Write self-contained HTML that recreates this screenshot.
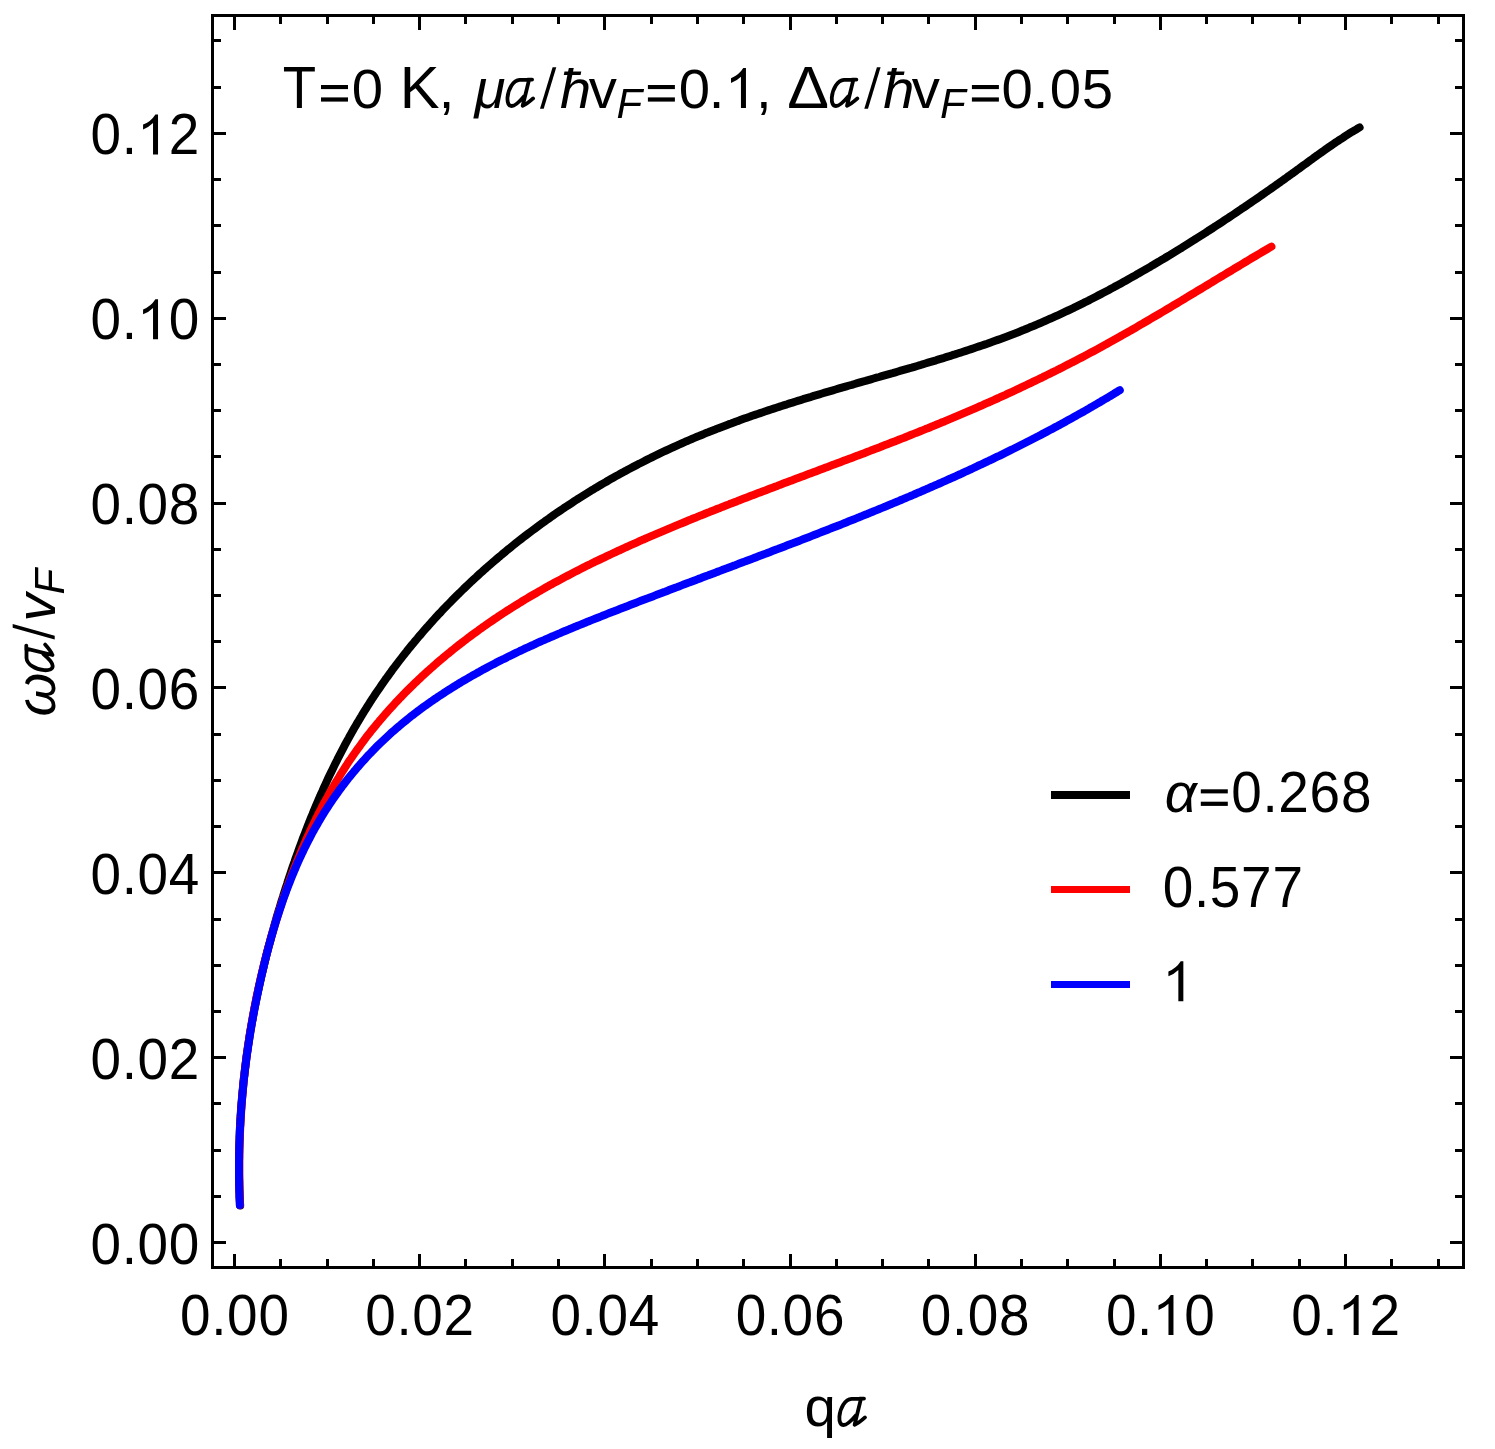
<!DOCTYPE html>
<html><head><meta charset="utf-8"><style>
html,body{margin:0;padding:0;background:#fff;}
svg{display:block;will-change:transform;}
text{font-family:"Liberation Sans",sans-serif;font-size:56.3px;fill:#000;}
</style></head><body>
<svg width="1495" height="1449" viewBox="0 0 1495 1449">
<rect width="1495" height="1449" fill="#fff"/>
<rect x="212.5" y="15.5" width="1251" height="1252" fill="none" stroke="#000" stroke-width="3"/>
<rect x="233" y="17" width="3" height="13"/>
<rect x="233" y="1254" width="3" height="12"/>
<rect x="279" y="17" width="3" height="7"/>
<rect x="279" y="1259" width="3" height="7"/>
<rect x="326" y="17" width="3" height="7"/>
<rect x="326" y="1259" width="3" height="7"/>
<rect x="372" y="17" width="3" height="7"/>
<rect x="372" y="1259" width="3" height="7"/>
<rect x="418" y="17" width="3" height="13"/>
<rect x="418" y="1254" width="3" height="12"/>
<rect x="464" y="17" width="3" height="7"/>
<rect x="464" y="1259" width="3" height="7"/>
<rect x="511" y="17" width="3" height="7"/>
<rect x="511" y="1259" width="3" height="7"/>
<rect x="557" y="17" width="3" height="7"/>
<rect x="557" y="1259" width="3" height="7"/>
<rect x="603" y="17" width="3" height="13"/>
<rect x="603" y="1254" width="3" height="12"/>
<rect x="650" y="17" width="3" height="7"/>
<rect x="650" y="1259" width="3" height="7"/>
<rect x="696" y="17" width="3" height="7"/>
<rect x="696" y="1259" width="3" height="7"/>
<rect x="742" y="17" width="3" height="7"/>
<rect x="742" y="1259" width="3" height="7"/>
<rect x="789" y="17" width="3" height="13"/>
<rect x="789" y="1254" width="3" height="12"/>
<rect x="835" y="17" width="3" height="7"/>
<rect x="835" y="1259" width="3" height="7"/>
<rect x="881" y="17" width="3" height="7"/>
<rect x="881" y="1259" width="3" height="7"/>
<rect x="927" y="17" width="3" height="7"/>
<rect x="927" y="1259" width="3" height="7"/>
<rect x="974" y="17" width="3" height="13"/>
<rect x="974" y="1254" width="3" height="12"/>
<rect x="1020" y="17" width="3" height="7"/>
<rect x="1020" y="1259" width="3" height="7"/>
<rect x="1066" y="17" width="3" height="7"/>
<rect x="1066" y="1259" width="3" height="7"/>
<rect x="1113" y="17" width="3" height="7"/>
<rect x="1113" y="1259" width="3" height="7"/>
<rect x="1159" y="17" width="3" height="13"/>
<rect x="1159" y="1254" width="3" height="12"/>
<rect x="1205" y="17" width="3" height="7"/>
<rect x="1205" y="1259" width="3" height="7"/>
<rect x="1251" y="17" width="3" height="7"/>
<rect x="1251" y="1259" width="3" height="7"/>
<rect x="1298" y="17" width="3" height="7"/>
<rect x="1298" y="1259" width="3" height="7"/>
<rect x="1344" y="17" width="3" height="13"/>
<rect x="1344" y="1254" width="3" height="12"/>
<rect x="1390" y="17" width="3" height="7"/>
<rect x="1390" y="1259" width="3" height="7"/>
<rect x="1437" y="17" width="3" height="7"/>
<rect x="1437" y="1259" width="3" height="7"/>
<rect x="214" y="1241" width="12" height="3"/>
<rect x="1450" y="1241" width="12" height="3"/>
<rect x="214" y="1195" width="7" height="3"/>
<rect x="1455" y="1195" width="7" height="3"/>
<rect x="214" y="1149" width="7" height="3"/>
<rect x="1455" y="1149" width="7" height="3"/>
<rect x="214" y="1102" width="7" height="3"/>
<rect x="1455" y="1102" width="7" height="3"/>
<rect x="214" y="1056" width="12" height="3"/>
<rect x="1450" y="1056" width="12" height="3"/>
<rect x="214" y="1010" width="7" height="3"/>
<rect x="1455" y="1010" width="7" height="3"/>
<rect x="214" y="964" width="7" height="3"/>
<rect x="1455" y="964" width="7" height="3"/>
<rect x="214" y="918" width="7" height="3"/>
<rect x="1455" y="918" width="7" height="3"/>
<rect x="214" y="871" width="12" height="3"/>
<rect x="1450" y="871" width="12" height="3"/>
<rect x="214" y="825" width="7" height="3"/>
<rect x="1455" y="825" width="7" height="3"/>
<rect x="214" y="779" width="7" height="3"/>
<rect x="1455" y="779" width="7" height="3"/>
<rect x="214" y="733" width="7" height="3"/>
<rect x="1455" y="733" width="7" height="3"/>
<rect x="214" y="686" width="12" height="3"/>
<rect x="1450" y="686" width="12" height="3"/>
<rect x="214" y="640" width="7" height="3"/>
<rect x="1455" y="640" width="7" height="3"/>
<rect x="214" y="594" width="7" height="3"/>
<rect x="1455" y="594" width="7" height="3"/>
<rect x="214" y="548" width="7" height="3"/>
<rect x="1455" y="548" width="7" height="3"/>
<rect x="214" y="502" width="12" height="3"/>
<rect x="1450" y="502" width="12" height="3"/>
<rect x="214" y="455" width="7" height="3"/>
<rect x="1455" y="455" width="7" height="3"/>
<rect x="214" y="409" width="7" height="3"/>
<rect x="1455" y="409" width="7" height="3"/>
<rect x="214" y="363" width="7" height="3"/>
<rect x="1455" y="363" width="7" height="3"/>
<rect x="214" y="317" width="12" height="3"/>
<rect x="1450" y="317" width="12" height="3"/>
<rect x="214" y="271" width="7" height="3"/>
<rect x="1455" y="271" width="7" height="3"/>
<rect x="214" y="224" width="7" height="3"/>
<rect x="1455" y="224" width="7" height="3"/>
<rect x="214" y="178" width="7" height="3"/>
<rect x="1455" y="178" width="7" height="3"/>
<rect x="214" y="132" width="12" height="3"/>
<rect x="1450" y="132" width="12" height="3"/>
<rect x="214" y="86" width="7" height="3"/>
<rect x="1455" y="86" width="7" height="3"/>
<rect x="214" y="39" width="7" height="3"/>
<rect x="1455" y="39" width="7" height="3"/>
<text transform="translate(195.37,1335.00) scale(0.975,1.02)" x="0" y="0" text-anchor="middle">0</text><text transform="translate(218.84,1335.00) scale(0.975,1.02)" x="0" y="0" text-anchor="middle">.</text><text transform="translate(242.32,1335.00) scale(0.975,1.02)" x="0" y="0" text-anchor="middle">0</text><text transform="translate(273.63,1335.00) scale(0.975,1.02)" x="0" y="0" text-anchor="middle">0</text>
<text transform="translate(105.78,1263.50) scale(0.975,1.02)" x="0" y="0" text-anchor="middle">0</text><text transform="translate(129.26,1263.50) scale(0.975,1.02)" x="0" y="0" text-anchor="middle">.</text><text transform="translate(152.73,1263.50) scale(0.975,1.02)" x="0" y="0" text-anchor="middle">0</text><text transform="translate(184.04,1263.50) scale(0.975,1.02)" x="0" y="0" text-anchor="middle">0</text>
<text transform="translate(380.54,1335.00) scale(0.975,1.02)" x="0" y="0" text-anchor="middle">0</text><text transform="translate(404.01,1335.00) scale(0.975,1.02)" x="0" y="0" text-anchor="middle">.</text><text transform="translate(427.49,1335.00) scale(0.975,1.02)" x="0" y="0" text-anchor="middle">0</text><text transform="translate(458.80,1335.00) scale(0.975,1.02)" x="0" y="0" text-anchor="middle">2</text>
<text transform="translate(105.78,1078.65) scale(0.975,1.02)" x="0" y="0" text-anchor="middle">0</text><text transform="translate(129.26,1078.65) scale(0.975,1.02)" x="0" y="0" text-anchor="middle">.</text><text transform="translate(152.73,1078.65) scale(0.975,1.02)" x="0" y="0" text-anchor="middle">0</text><text transform="translate(184.04,1078.65) scale(0.975,1.02)" x="0" y="0" text-anchor="middle">2</text>
<text transform="translate(565.71,1335.00) scale(0.975,1.02)" x="0" y="0" text-anchor="middle">0</text><text transform="translate(589.18,1335.00) scale(0.975,1.02)" x="0" y="0" text-anchor="middle">.</text><text transform="translate(612.66,1335.00) scale(0.975,1.02)" x="0" y="0" text-anchor="middle">0</text><text transform="translate(643.97,1335.00) scale(0.975,1.02)" x="0" y="0" text-anchor="middle">4</text>
<text transform="translate(105.78,893.80) scale(0.975,1.02)" x="0" y="0" text-anchor="middle">0</text><text transform="translate(129.26,893.80) scale(0.975,1.02)" x="0" y="0" text-anchor="middle">.</text><text transform="translate(152.73,893.80) scale(0.975,1.02)" x="0" y="0" text-anchor="middle">0</text><text transform="translate(184.04,893.80) scale(0.975,1.02)" x="0" y="0" text-anchor="middle">4</text>
<text transform="translate(750.88,1335.00) scale(0.975,1.02)" x="0" y="0" text-anchor="middle">0</text><text transform="translate(774.35,1335.00) scale(0.975,1.02)" x="0" y="0" text-anchor="middle">.</text><text transform="translate(797.83,1335.00) scale(0.975,1.02)" x="0" y="0" text-anchor="middle">0</text><text transform="translate(829.14,1335.00) scale(0.975,1.02)" x="0" y="0" text-anchor="middle">6</text>
<text transform="translate(105.78,708.95) scale(0.975,1.02)" x="0" y="0" text-anchor="middle">0</text><text transform="translate(129.26,708.95) scale(0.975,1.02)" x="0" y="0" text-anchor="middle">.</text><text transform="translate(152.73,708.95) scale(0.975,1.02)" x="0" y="0" text-anchor="middle">0</text><text transform="translate(184.04,708.95) scale(0.975,1.02)" x="0" y="0" text-anchor="middle">6</text>
<text transform="translate(936.05,1335.00) scale(0.975,1.02)" x="0" y="0" text-anchor="middle">0</text><text transform="translate(959.52,1335.00) scale(0.975,1.02)" x="0" y="0" text-anchor="middle">.</text><text transform="translate(983.00,1335.00) scale(0.975,1.02)" x="0" y="0" text-anchor="middle">0</text><text transform="translate(1014.31,1335.00) scale(0.975,1.02)" x="0" y="0" text-anchor="middle">8</text>
<text transform="translate(105.78,524.10) scale(0.975,1.02)" x="0" y="0" text-anchor="middle">0</text><text transform="translate(129.26,524.10) scale(0.975,1.02)" x="0" y="0" text-anchor="middle">.</text><text transform="translate(152.73,524.10) scale(0.975,1.02)" x="0" y="0" text-anchor="middle">0</text><text transform="translate(184.04,524.10) scale(0.975,1.02)" x="0" y="0" text-anchor="middle">8</text>
<text transform="translate(1121.22,1335.00) scale(0.975,1.02)" x="0" y="0" text-anchor="middle">0</text><text transform="translate(1144.69,1335.00) scale(0.975,1.02)" x="0" y="0" text-anchor="middle">.</text><path transform="translate(1152.52,1335.00)" d="M15.95,0 L20.95,0 L20.95,-40 L18.3,-40 Q14,-33 6,-29.8 L6,-25 Q12,-27.3 15.95,-31.3 Z"/><text transform="translate(1199.48,1335.00) scale(0.975,1.02)" x="0" y="0" text-anchor="middle">0</text>
<text transform="translate(105.78,339.25) scale(0.975,1.02)" x="0" y="0" text-anchor="middle">0</text><text transform="translate(129.26,339.25) scale(0.975,1.02)" x="0" y="0" text-anchor="middle">.</text><path transform="translate(137.08,339.25)" d="M15.95,0 L20.95,0 L20.95,-40 L18.3,-40 Q14,-33 6,-29.8 L6,-25 Q12,-27.3 15.95,-31.3 Z"/><text transform="translate(184.04,339.25) scale(0.975,1.02)" x="0" y="0" text-anchor="middle">0</text>
<text transform="translate(1306.39,1335.00) scale(0.975,1.02)" x="0" y="0" text-anchor="middle">0</text><text transform="translate(1329.86,1335.00) scale(0.975,1.02)" x="0" y="0" text-anchor="middle">.</text><path transform="translate(1337.69,1335.00)" d="M15.95,0 L20.95,0 L20.95,-40 L18.3,-40 Q14,-33 6,-29.8 L6,-25 Q12,-27.3 15.95,-31.3 Z"/><text transform="translate(1384.65,1335.00) scale(0.975,1.02)" x="0" y="0" text-anchor="middle">2</text>
<text transform="translate(105.78,154.40) scale(0.975,1.02)" x="0" y="0" text-anchor="middle">0</text><text transform="translate(129.26,154.40) scale(0.975,1.02)" x="0" y="0" text-anchor="middle">.</text><path transform="translate(137.08,154.40)" d="M15.95,0 L20.95,0 L20.95,-40 L18.3,-40 Q14,-33 6,-29.8 L6,-25 Q12,-27.3 15.95,-31.3 Z"/><text transform="translate(184.04,154.40) scale(0.975,1.02)" x="0" y="0" text-anchor="middle">2</text>
<path d="M240.2,1205.5 L240.0,1202.6 L239.9,1199.8 L239.7,1196.9 L239.6,1194.0 L239.5,1191.1 L239.4,1188.3 L239.3,1185.4 L239.3,1182.5 L239.2,1179.7 L239.2,1176.8 L239.1,1173.9 L239.1,1171.1 L239.1,1168.2 L239.1,1165.4 L239.1,1162.5 L239.1,1159.7 L239.1,1156.8 L239.1,1154.0 L239.2,1151.1 L239.2,1148.3 L239.3,1145.4 L239.4,1142.6 L239.5,1139.8 L239.6,1136.9 L239.7,1134.1 L239.8,1131.2 L239.9,1128.4 L240.1,1125.6 L240.2,1122.8 L240.4,1119.9 L240.5,1117.1 L240.7,1114.3 L240.9,1111.5 L241.1,1108.6 L241.3,1105.8 L241.5,1103.0 L241.8,1100.2 L242.0,1097.4 L242.2,1094.6 L242.5,1091.8 L242.8,1089.0 L243.1,1086.2 L243.3,1083.4 L243.6,1080.6 L243.9,1077.8 L244.3,1075.0 L244.6,1072.2 L244.9,1069.4 L245.3,1066.6 L245.6,1063.8 L246.0,1061.0 L246.3,1058.2 L246.7,1055.4 L247.1,1052.6 L247.5,1049.9 L247.9,1047.1 L248.3,1044.3 L248.8,1041.5 L249.2,1038.7 L249.6,1036.0 L250.1,1033.2 L250.5,1030.4 L251.0,1027.7 L251.5,1024.9 L252.0,1022.1 L252.5,1019.4 L253.0,1016.6 L253.5,1013.8 L254.0,1011.1 L254.5,1008.3 L255.1,1005.6 L255.6,1002.8 L256.2,1000.1 L256.7,997.3 L257.3,994.6 L257.9,991.8 L258.5,989.1 L259.1,986.3 L259.7,983.6 L260.3,980.8 L260.9,978.1 L261.5,975.4 L262.2,972.6 L262.8,969.9 L263.5,967.2 L264.1,964.4 L264.8,961.7 L265.5,959.0 L266.1,956.3 L266.8,953.5 L267.5,950.8 L268.2,948.1 L268.9,945.4 L269.7,942.6 L270.4,939.9 L271.1,937.2 L271.9,934.5 L272.6,931.8 L273.4,929.1 L274.1,926.4 L274.9,923.7 L275.7,921.0 L276.4,918.2 L277.2,915.5 L278.0,912.8 L278.8,910.1 L279.7,907.4 L280.5,904.7 L281.3,902.0 L282.1,899.4 L283.0,896.7 L283.8,894.0 L284.7,891.3 L285.5,888.6 L286.4,885.9 L287.3,883.2 L288.1,880.5 L289.0,877.9 L289.9,875.2 L290.8,872.5 L291.7,869.8 L292.6,867.1 L293.5,864.5 L294.5,861.8 L295.4,859.1 L296.3,856.5 L297.3,853.8 L298.3,851.2 L299.2,848.5 L300.2,845.8 L301.2,843.2 L302.2,840.5 L303.1,837.9 L304.2,835.3 L305.2,832.6 L306.2,830.0 L307.2,827.3 L308.2,824.7 L309.3,822.1 L310.3,819.5 L311.4,816.8 L312.5,814.2 L313.5,811.6 L314.6,809.0 L315.7,806.4 L316.8,803.8 L317.9,801.2 L319.0,798.6 L320.2,796.0 L321.3,793.4 L322.5,790.9 L323.6,788.3 L324.8,785.7 L326.0,783.2 L327.1,780.6 L328.3,778.0 L329.5,775.5 L330.8,772.9 L332.0,770.4 L333.2,767.9 L334.5,765.3 L335.7,762.8 L337.0,760.3 L338.2,757.8 L339.5,755.3 L340.8,752.8 L342.1,750.3 L343.4,747.8 L344.7,745.3 L346.1,742.8 L347.4,740.4 L348.8,737.9 L350.1,735.4 L351.5,733.0 L352.9,730.5 L354.3,728.1 L355.7,725.7 L357.1,723.2 L358.6,720.8 L360.0,718.4 L361.5,716.0 L362.9,713.6 L364.4,711.2 L365.9,708.8 L367.4,706.4 L368.9,704.1 L370.4,701.7 L371.9,699.3 L373.5,697.0 L375.0,694.6 L376.6,692.3 L378.2,690.0 L379.8,687.7 L381.4,685.3 L383.0,683.0 L384.6,680.7 L386.2,678.4 L387.9,676.2 L389.5,673.9 L391.2,671.6 L392.8,669.3 L394.5,667.1 L396.2,664.8 L397.9,662.6 L399.6,660.4 L401.4,658.1 L403.1,655.9 L404.8,653.7 L406.6,651.5 L408.3,649.3 L410.1,647.1 L411.9,644.9 L413.7,642.8 L415.5,640.6 L417.3,638.5 L419.1,636.3 L421.0,634.2 L422.8,632.0 L424.6,629.9 L426.5,627.8 L428.4,625.7 L430.2,623.6 L432.1,621.5 L434.0,619.4 L435.9,617.3 L437.8,615.2 L439.8,613.2 L441.7,611.1 L443.6,609.1 L445.6,607.0 L447.5,605.0 L449.5,603.0 L451.5,600.9 L453.5,598.9 L455.5,596.9 L457.5,594.9 L459.5,593.0 L461.5,591.0 L463.5,589.0 L465.6,587.0 L467.6,585.1 L469.7,583.1 L471.7,581.2 L473.8,579.3 L475.9,577.4 L477.9,575.5 L480.0,573.5 L482.1,571.7 L484.2,569.8 L486.4,567.9 L488.5,566.0 L490.6,564.2 L492.8,562.3 L494.9,560.5 L497.1,558.6 L499.2,556.8 L501.4,555.0 L503.6,553.1 L505.8,551.3 L507.9,549.5 L510.1,547.8 L512.3,546.0 L514.6,544.2 L516.8,542.4 L519.0,540.7 L521.2,539.0 L523.5,537.2 L525.7,535.5 L528.0,533.8 L530.2,532.1 L532.5,530.4 L534.8,528.7 L537.1,527.0 L539.4,525.3 L541.6,523.6 L544.0,522.0 L546.3,520.3 L548.6,518.7 L550.9,517.0 L553.2,515.4 L555.5,513.8 L557.9,512.2 L560.2,510.6 L562.6,509.0 L564.9,507.4 L567.3,505.9 L569.7,504.3 L572.0,502.8 L574.4,501.2 L576.8,499.7 L579.2,498.1 L581.6,496.6 L584.0,495.1 L586.4,493.6 L588.8,492.1 L591.2,490.6 L593.7,489.2 L596.1,487.7 L598.5,486.3 L601.0,484.8 L603.4,483.4 L605.9,482.0 L608.3,480.5 L610.8,479.1 L613.2,477.7 L615.7,476.3 L618.2,475.0 L620.7,473.6 L623.1,472.2 L625.6,470.9 L628.1,469.5 L630.6,468.2 L633.1,466.9 L635.6,465.6 L638.2,464.2 L640.7,463.0 L643.2,461.7 L645.7,460.4 L648.2,459.1 L650.8,457.9 L653.3,456.6 L655.8,455.4 L658.4,454.1 L660.9,452.9 L663.5,451.7 L666.1,450.5 L668.6,449.3 L671.2,448.1 L673.7,447.0 L676.3,445.8 L678.9,444.6 L681.5,443.5 L684.0,442.4 L686.6,441.2 L689.2,440.1 L691.8,439.0 L694.4,437.9 L697.0,436.8 L699.6,435.8 L702.2,434.7 L704.8,433.6 L707.4,432.6 L710.0,431.5 L712.7,430.5 L715.3,429.5 L717.9,428.4 L720.5,427.4 L723.2,426.4 L725.8,425.4 L728.4,424.4 L731.1,423.5 L733.7,422.5 L736.3,421.5 L739.0,420.6 L741.6,419.6 L744.3,418.6 L746.9,417.7 L749.6,416.8 L752.2,415.8 L754.9,414.9 L757.6,414.0 L760.2,413.1 L762.9,412.2 L765.6,411.3 L768.2,410.4 L770.9,409.5 L773.6,408.6 L776.3,407.7 L778.9,406.9 L781.6,406.0 L784.3,405.1 L787.0,404.3 L789.7,403.4 L792.4,402.6 L795.1,401.7 L797.7,400.9 L800.4,400.1 L803.1,399.2 L805.8,398.4 L808.5,397.6 L811.2,396.8 L813.9,395.9 L816.6,395.1 L819.3,394.3 L822.0,393.5 L824.7,392.7 L827.5,391.9 L830.2,391.1 L832.9,390.3 L835.6,389.5 L838.3,388.7 L841.0,387.9 L843.7,387.1 L846.4,386.3 L849.2,385.5 L851.9,384.8 L854.6,384.0 L857.3,383.2 L860.0,382.4 L862.7,381.6 L865.5,380.9 L868.2,380.1 L870.9,379.3 L873.6,378.5 L876.4,377.7 L879.1,377.0 L881.8,376.2 L884.5,375.4 L887.2,374.6 L890.0,373.8 L892.7,373.1 L895.4,372.3 L898.1,371.5 L900.8,370.7 L903.6,369.9 L906.3,369.1 L909.0,368.3 L911.7,367.6 L914.4,366.8 L917.2,366.0 L919.9,365.2 L922.6,364.3 L925.3,363.5 L928.0,362.7 L930.7,361.9 L933.4,361.1 L936.1,360.3 L938.8,359.4 L941.5,358.6 L944.2,357.8 L946.9,356.9 L949.6,356.1 L952.3,355.2 L955.0,354.4 L957.7,353.5 L960.4,352.7 L963.1,351.8 L965.8,350.9 L968.5,350.0 L971.2,349.1 L973.8,348.2 L976.5,347.3 L979.2,346.4 L981.9,345.5 L984.5,344.6 L987.2,343.7 L989.9,342.7 L992.5,341.8 L995.2,340.8 L997.8,339.9 L1000.5,338.9 L1003.1,337.9 L1005.8,336.9 L1008.4,335.9 L1011.0,334.9 L1013.7,333.9 L1016.3,332.9 L1018.9,331.9 L1021.6,330.8 L1024.2,329.8 L1026.8,328.7 L1029.4,327.6 L1032.0,326.6 L1034.6,325.5 L1037.2,324.4 L1039.8,323.3 L1042.4,322.1 L1045.0,321.0 L1047.5,319.9 L1050.1,318.7 L1052.7,317.6 L1055.3,316.4 L1057.8,315.3 L1060.4,314.1 L1063.0,312.9 L1065.5,311.7 L1068.1,310.5 L1070.6,309.3 L1073.2,308.1 L1075.7,306.8 L1078.2,305.6 L1080.8,304.3 L1083.3,303.1 L1085.8,301.8 L1088.4,300.6 L1090.9,299.3 L1093.4,298.0 L1095.9,296.7 L1098.4,295.4 L1100.9,294.1 L1103.4,292.8 L1105.9,291.5 L1108.4,290.2 L1110.9,288.8 L1113.4,287.5 L1115.9,286.1 L1118.4,284.8 L1120.9,283.4 L1123.3,282.1 L1125.8,280.7 L1128.3,279.3 L1130.7,277.9 L1133.2,276.5 L1135.7,275.2 L1138.1,273.7 L1140.6,272.3 L1143.0,270.9 L1145.5,269.5 L1147.9,268.1 L1150.4,266.7 L1152.8,265.2 L1155.2,263.8 L1157.7,262.3 L1160.1,260.9 L1162.5,259.4 L1165.0,258.0 L1167.4,256.5 L1169.8,255.1 L1172.2,253.6 L1174.6,252.1 L1177.0,250.6 L1179.5,249.1 L1181.9,247.7 L1184.3,246.2 L1186.7,244.7 L1189.1,243.2 L1191.4,241.7 L1193.8,240.2 L1196.2,238.6 L1198.6,237.1 L1201.0,235.6 L1203.4,234.1 L1205.8,232.6 L1208.1,231.0 L1210.5,229.5 L1212.9,228.0 L1215.2,226.4 L1217.6,224.9 L1220.0,223.3 L1222.3,221.8 L1224.7,220.2 L1227.1,218.7 L1229.4,217.1 L1231.8,215.5 L1234.1,214.0 L1236.5,212.4 L1238.8,210.8 L1241.1,209.2 L1243.5,207.7 L1245.8,206.1 L1248.1,204.5 L1250.5,202.9 L1252.8,201.3 L1255.1,199.7 L1257.5,198.1 L1259.8,196.5 L1262.1,194.9 L1264.4,193.3 L1266.7,191.6 L1269.1,190.0 L1271.4,188.4 L1273.7,186.8 L1276.0,185.1 L1278.3,183.5 L1280.6,181.9 L1282.9,180.2 L1285.2,178.6 L1287.5,176.9 L1289.8,175.3 L1292.1,173.6 L1294.4,172.0 L1296.6,170.3 L1298.9,168.7 L1301.2,167.0 L1303.5,165.3 L1305.8,163.7 L1308.1,162.0 L1310.4,160.3 L1312.7,158.7 L1314.9,157.0 L1317.2,155.4 L1319.5,153.7 L1321.8,152.1 L1324.1,150.5 L1326.4,148.8 L1328.8,147.2 L1331.1,145.6 L1333.4,144.0 L1335.7,142.4 L1338.1,140.9 L1340.4,139.3 L1342.8,137.8 L1345.2,136.2 L1347.6,134.7 L1349.9,133.2 L1352.3,131.7 L1354.8,130.3 L1357.2,128.8 L1359.6,127.4" fill="none" stroke="#000" stroke-width="8" stroke-linecap="round" stroke-linejoin="round"/>
<path d="M240.0,1205.0 L239.9,1202.4 L239.8,1199.9 L239.7,1197.3 L239.7,1194.8 L239.6,1192.2 L239.5,1189.7 L239.5,1187.1 L239.4,1184.6 L239.4,1182.0 L239.3,1179.4 L239.3,1176.9 L239.3,1174.3 L239.3,1171.8 L239.3,1169.2 L239.3,1166.7 L239.3,1164.1 L239.3,1161.5 L239.3,1159.0 L239.4,1156.4 L239.4,1153.9 L239.4,1151.3 L239.5,1148.8 L239.6,1146.2 L239.6,1143.7 L239.7,1141.1 L239.8,1138.5 L239.9,1136.0 L240.0,1133.4 L240.1,1130.9 L240.2,1128.3 L240.3,1125.8 L240.5,1123.2 L240.6,1120.7 L240.7,1118.1 L240.9,1115.5 L241.1,1113.0 L241.2,1110.4 L241.4,1107.9 L241.6,1105.3 L241.8,1102.8 L242.0,1100.2 L242.2,1097.7 L242.4,1095.1 L242.6,1092.6 L242.9,1090.0 L243.1,1087.5 L243.3,1084.9 L243.6,1082.4 L243.8,1079.9 L244.1,1077.3 L244.4,1074.8 L244.7,1072.2 L245.0,1069.7 L245.3,1067.1 L245.6,1064.6 L245.9,1062.1 L246.2,1059.5 L246.5,1057.0 L246.9,1054.4 L247.2,1051.9 L247.6,1049.4 L247.9,1046.8 L248.3,1044.3 L248.7,1041.8 L249.1,1039.3 L249.4,1036.7 L249.8,1034.2 L250.2,1031.7 L250.7,1029.1 L251.1,1026.6 L251.5,1024.1 L251.9,1021.6 L252.4,1019.1 L252.8,1016.5 L253.3,1014.0 L253.8,1011.5 L254.2,1009.0 L254.7,1006.5 L255.2,1004.0 L255.7,1001.5 L256.2,998.9 L256.7,996.4 L257.2,993.9 L257.8,991.4 L258.3,988.9 L258.9,986.4 L259.4,983.9 L260.0,981.4 L260.5,978.9 L261.1,976.5 L261.7,974.0 L262.3,971.5 L262.9,969.0 L263.5,966.5 L264.1,964.0 L264.7,961.5 L265.3,959.1 L266.0,956.6 L266.6,954.1 L267.3,951.6 L267.9,949.2 L268.6,946.7 L269.3,944.2 L270.0,941.8 L270.6,939.3 L271.3,936.8 L272.0,934.4 L272.8,931.9 L273.5,929.5 L274.2,927.0 L274.9,924.6 L275.7,922.1 L276.4,919.7 L277.2,917.2 L278.0,914.8 L278.7,912.4 L279.5,909.9 L280.3,907.5 L281.1,905.1 L281.9,902.6 L282.7,900.2 L283.5,897.8 L284.4,895.4 L285.2,893.0 L286.1,890.5 L286.9,888.1 L287.8,885.7 L288.6,883.3 L289.5,880.9 L290.4,878.5 L291.3,876.1 L292.2,873.7 L293.1,871.4 L294.0,869.0 L295.0,866.6 L295.9,864.2 L296.9,861.9 L297.8,859.5 L298.8,857.1 L299.8,854.8 L300.7,852.4 L301.7,850.1 L302.7,847.7 L303.8,845.4 L304.8,843.0 L305.8,840.7 L306.8,838.4 L307.9,836.0 L309.0,833.7 L310.0,831.4 L311.1,829.1 L312.2,826.8 L313.3,824.5 L314.4,822.2 L315.5,819.9 L316.6,817.6 L317.8,815.3 L318.9,813.0 L320.1,810.8 L321.3,808.5 L322.4,806.2 L323.6,804.0 L324.8,801.7 L326.1,799.5 L327.3,797.3 L328.5,795.0 L329.8,792.8 L331.0,790.6 L332.3,788.4 L333.6,786.2 L334.8,784.0 L336.1,781.8 L337.5,779.6 L338.8,777.5 L340.1,775.3 L341.4,773.1 L342.8,771.0 L344.2,768.8 L345.5,766.7 L346.9,764.6 L348.3,762.4 L349.7,760.3 L351.2,758.2 L352.6,756.1 L354.1,754.0 L355.5,752.0 L357.0,749.9 L358.5,747.8 L360.0,745.8 L361.5,743.7 L363.0,741.7 L364.5,739.6 L366.0,737.6 L367.6,735.6 L369.2,733.6 L370.7,731.6 L372.3,729.6 L373.9,727.7 L375.5,725.7 L377.1,723.7 L378.8,721.8 L380.4,719.8 L382.1,717.9 L383.7,716.0 L385.4,714.0 L387.1,712.1 L388.8,710.2 L390.5,708.3 L392.2,706.5 L393.9,704.6 L395.6,702.7 L397.4,700.9 L399.1,699.0 L400.9,697.2 L402.7,695.3 L404.4,693.5 L406.2,691.7 L408.0,689.9 L409.8,688.1 L411.6,686.3 L413.5,684.5 L415.3,682.7 L417.2,681.0 L419.0,679.2 L420.9,677.5 L422.7,675.7 L424.6,674.0 L426.5,672.3 L428.4,670.6 L430.3,668.8 L432.2,667.2 L434.1,665.5 L436.1,663.8 L438.0,662.1 L439.9,660.4 L441.9,658.8 L443.9,657.1 L445.8,655.5 L447.8,653.9 L449.8,652.3 L451.8,650.6 L453.8,649.0 L455.8,647.4 L457.8,645.8 L459.8,644.3 L461.8,642.7 L463.9,641.1 L465.9,639.6 L467.9,638.0 L470.0,636.5 L472.0,635.0 L474.1,633.4 L476.2,631.9 L478.3,630.4 L480.3,628.9 L482.4,627.4 L484.5,626.0 L486.6,624.5 L488.7,623.0 L490.8,621.6 L493.0,620.1 L495.1,618.7 L497.2,617.3 L499.3,615.8 L501.5,614.4 L503.6,613.0 L505.8,611.6 L507.9,610.2 L510.1,608.9 L512.2,607.5 L514.4,606.1 L516.6,604.8 L518.8,603.4 L521.0,602.1 L523.1,600.7 L525.3,599.4 L527.5,598.1 L529.7,596.8 L531.9,595.5 L534.1,594.2 L536.4,592.9 L538.6,591.6 L540.8,590.4 L543.0,589.1 L545.3,587.8 L547.5,586.6 L549.7,585.3 L552.0,584.1 L554.2,582.8 L556.5,581.6 L558.7,580.4 L561.0,579.2 L563.2,578.0 L565.5,576.8 L567.8,575.6 L570.0,574.4 L572.3,573.2 L574.6,572.0 L576.9,570.9 L579.2,569.7 L581.5,568.5 L583.7,567.4 L586.0,566.2 L588.3,565.1 L590.6,564.0 L592.9,562.8 L595.2,561.7 L597.5,560.6 L599.9,559.5 L602.2,558.4 L604.5,557.3 L606.8,556.2 L609.1,555.1 L611.4,554.0 L613.8,552.9 L616.1,551.8 L618.4,550.7 L620.8,549.7 L623.1,548.6 L625.4,547.5 L627.8,546.5 L630.1,545.4 L632.4,544.4 L634.8,543.3 L637.1,542.3 L639.5,541.2 L641.8,540.2 L644.2,539.2 L646.5,538.1 L648.9,537.1 L651.2,536.1 L653.6,535.1 L655.9,534.1 L658.3,533.1 L660.7,532.1 L663.0,531.1 L665.4,530.1 L667.7,529.1 L670.1,528.1 L672.5,527.1 L674.8,526.1 L677.2,525.1 L679.6,524.1 L681.9,523.2 L684.3,522.2 L686.7,521.2 L689.0,520.2 L691.4,519.3 L693.8,518.3 L696.2,517.4 L698.5,516.4 L700.9,515.4 L703.3,514.5 L705.7,513.5 L708.1,512.6 L710.4,511.6 L712.8,510.7 L715.2,509.8 L717.6,508.8 L720.0,507.9 L722.3,506.9 L724.7,506.0 L727.1,505.1 L729.5,504.1 L731.9,503.2 L734.3,502.3 L736.7,501.4 L739.0,500.4 L741.4,499.5 L743.8,498.6 L746.2,497.7 L748.6,496.8 L751.0,495.8 L753.4,494.9 L755.8,494.0 L758.2,493.1 L760.6,492.2 L763.0,491.3 L765.4,490.4 L767.7,489.5 L770.1,488.6 L772.5,487.7 L774.9,486.8 L777.3,485.9 L779.7,484.9 L782.1,484.0 L784.5,483.1 L786.9,482.2 L789.3,481.3 L791.7,480.4 L794.1,479.5 L796.5,478.6 L798.9,477.7 L801.3,476.8 L803.7,475.9 L806.1,475.0 L808.5,474.1 L810.9,473.2 L813.3,472.3 L815.7,471.4 L818.1,470.5 L820.5,469.6 L822.9,468.7 L825.2,467.8 L827.6,466.9 L830.0,466.0 L832.4,465.1 L834.8,464.2 L837.2,463.3 L839.6,462.4 L842.0,461.5 L844.4,460.6 L846.8,459.7 L849.2,458.8 L851.6,457.9 L854.0,457.0 L856.4,456.1 L858.8,455.2 L861.2,454.3 L863.6,453.4 L865.9,452.5 L868.3,451.6 L870.7,450.6 L873.1,449.7 L875.5,448.8 L877.9,447.9 L880.3,447.0 L882.7,446.0 L885.1,445.1 L887.4,444.2 L889.8,443.3 L892.2,442.3 L894.6,441.4 L897.0,440.5 L899.4,439.5 L901.7,438.6 L904.1,437.7 L906.5,436.7 L908.9,435.8 L911.3,434.8 L913.6,433.9 L916.0,432.9 L918.4,432.0 L920.8,431.0 L923.1,430.1 L925.5,429.1 L927.9,428.2 L930.3,427.2 L932.6,426.2 L935.0,425.3 L937.4,424.3 L939.7,423.3 L942.1,422.3 L944.5,421.4 L946.8,420.4 L949.2,419.4 L951.6,418.4 L953.9,417.4 L956.3,416.4 L958.6,415.4 L961.0,414.4 L963.3,413.4 L965.7,412.4 L968.0,411.4 L970.4,410.4 L972.7,409.4 L975.1,408.3 L977.4,407.3 L979.8,406.3 L982.1,405.3 L984.5,404.2 L986.8,403.2 L989.2,402.2 L991.5,401.1 L993.8,400.1 L996.2,399.0 L998.5,398.0 L1000.8,396.9 L1003.2,395.8 L1005.5,394.8 L1007.8,393.7 L1010.2,392.6 L1012.5,391.6 L1014.8,390.5 L1017.1,389.4 L1019.4,388.3 L1021.8,387.2 L1024.1,386.1 L1026.4,385.0 L1028.7,383.9 L1031.0,382.8 L1033.3,381.7 L1035.6,380.6 L1037.9,379.5 L1040.2,378.4 L1042.5,377.3 L1044.8,376.1 L1047.1,375.0 L1049.4,373.9 L1051.7,372.7 L1054.0,371.6 L1056.3,370.5 L1058.6,369.3 L1060.9,368.2 L1063.2,367.0 L1065.5,365.8 L1067.7,364.7 L1070.0,363.5 L1072.3,362.3 L1074.6,361.2 L1076.8,360.0 L1079.1,358.8 L1081.4,357.6 L1083.6,356.4 L1085.9,355.2 L1088.2,354.0 L1090.4,352.8 L1092.7,351.6 L1094.9,350.4 L1097.2,349.2 L1099.4,348.0 L1101.7,346.7 L1103.9,345.5 L1106.2,344.3 L1108.4,343.0 L1110.6,341.8 L1112.9,340.5 L1115.1,339.3 L1117.4,338.0 L1119.6,336.8 L1121.8,335.5 L1124.0,334.3 L1126.3,333.0 L1128.5,331.7 L1130.7,330.5 L1132.9,329.2 L1135.2,327.9 L1137.4,326.6 L1139.6,325.3 L1141.8,324.1 L1144.0,322.8 L1146.2,321.5 L1148.4,320.2 L1150.6,318.9 L1152.9,317.6 L1155.1,316.3 L1157.3,315.0 L1159.5,313.7 L1161.7,312.4 L1163.9,311.1 L1166.1,309.8 L1168.3,308.5 L1170.5,307.2 L1172.7,305.8 L1174.9,304.5 L1177.1,303.2 L1179.3,301.9 L1181.5,300.6 L1183.7,299.3 L1185.9,297.9 L1188.0,296.6 L1190.2,295.3 L1192.4,294.0 L1194.6,292.7 L1196.8,291.3 L1199.0,290.0 L1201.2,288.7 L1203.4,287.4 L1205.6,286.0 L1207.8,284.7 L1210.0,283.4 L1212.2,282.1 L1214.3,280.7 L1216.5,279.4 L1218.7,278.1 L1220.9,276.8 L1223.1,275.5 L1225.3,274.1 L1227.5,272.8 L1229.7,271.5 L1231.9,270.2 L1234.1,268.8 L1236.3,267.5 L1238.5,266.2 L1240.7,264.9 L1242.8,263.6 L1245.0,262.3 L1247.2,261.0 L1249.4,259.6 L1251.6,258.3 L1253.8,257.0 L1256.0,255.7 L1258.2,254.4 L1260.4,253.1 L1262.6,251.8 L1264.8,250.5 L1267.0,249.2 L1269.2,247.9 L1271.4,246.6" fill="none" stroke="#f00" stroke-width="8" stroke-linecap="round" stroke-linejoin="round"/>
<path d="M239.8,1205.1 L239.7,1202.8 L239.6,1200.6 L239.5,1198.4 L239.4,1196.2 L239.4,1194.0 L239.3,1191.8 L239.2,1189.6 L239.2,1187.4 L239.1,1185.2 L239.1,1183.0 L239.1,1180.8 L239.0,1178.6 L239.0,1176.4 L239.0,1174.2 L239.0,1172.0 L239.0,1169.8 L239.0,1167.5 L239.0,1165.3 L239.0,1163.1 L239.0,1160.9 L239.1,1158.7 L239.1,1156.5 L239.1,1154.3 L239.2,1152.1 L239.2,1149.9 L239.3,1147.7 L239.3,1145.5 L239.4,1143.3 L239.5,1141.1 L239.6,1138.9 L239.6,1136.7 L239.7,1134.5 L239.8,1132.3 L239.9,1130.1 L240.0,1127.9 L240.2,1125.8 L240.3,1123.6 L240.4,1121.4 L240.5,1119.2 L240.7,1117.0 L240.8,1114.8 L241.0,1112.6 L241.1,1110.4 L241.3,1108.2 L241.4,1106.0 L241.6,1103.8 L241.8,1101.6 L242.0,1099.4 L242.2,1097.2 L242.4,1095.1 L242.6,1092.9 L242.8,1090.7 L243.0,1088.5 L243.2,1086.3 L243.4,1084.1 L243.6,1081.9 L243.9,1079.7 L244.1,1077.6 L244.4,1075.4 L244.6,1073.2 L244.9,1071.0 L245.1,1068.8 L245.4,1066.6 L245.7,1064.5 L246.0,1062.3 L246.2,1060.1 L246.5,1057.9 L246.8,1055.7 L247.1,1053.6 L247.4,1051.4 L247.8,1049.2 L248.1,1047.0 L248.4,1044.9 L248.7,1042.7 L249.1,1040.5 L249.4,1038.3 L249.7,1036.2 L250.1,1034.0 L250.4,1031.8 L250.8,1029.6 L251.2,1027.5 L251.5,1025.3 L251.9,1023.1 L252.3,1021.0 L252.7,1018.8 L253.1,1016.6 L253.5,1014.5 L253.9,1012.3 L254.3,1010.1 L254.7,1008.0 L255.1,1005.8 L255.6,1003.6 L256.0,1001.5 L256.4,999.3 L256.9,997.1 L257.3,995.0 L257.8,992.8 L258.2,990.7 L258.7,988.5 L259.1,986.3 L259.6,984.2 L260.1,982.0 L260.6,979.9 L261.1,977.7 L261.6,975.6 L262.0,973.4 L262.6,971.3 L263.1,969.1 L263.6,967.0 L264.1,964.8 L264.6,962.7 L265.1,960.5 L265.7,958.4 L266.2,956.2 L266.8,954.1 L267.3,951.9 L267.9,949.8 L268.4,947.7 L269.0,945.5 L269.6,943.4 L270.2,941.3 L270.8,939.1 L271.4,937.0 L272.0,934.9 L272.6,932.8 L273.2,930.6 L273.8,928.5 L274.5,926.4 L275.1,924.3 L275.7,922.2 L276.4,920.1 L277.1,918.0 L277.7,915.9 L278.4,913.8 L279.1,911.7 L279.8,909.6 L280.5,907.5 L281.2,905.4 L281.9,903.3 L282.6,901.2 L283.3,899.2 L284.1,897.1 L284.8,895.0 L285.6,893.0 L286.3,890.9 L287.1,888.8 L287.9,886.8 L288.7,884.7 L289.5,882.7 L290.3,880.6 L291.1,878.6 L291.9,876.6 L292.7,874.5 L293.6,872.5 L294.4,870.5 L295.3,868.5 L296.1,866.5 L297.0,864.4 L297.9,862.4 L298.8,860.4 L299.7,858.4 L300.6,856.5 L301.5,854.5 L302.5,852.5 L303.4,850.5 L304.3,848.6 L305.3,846.6 L306.3,844.6 L307.3,842.7 L308.3,840.7 L309.3,838.8 L310.3,836.9 L311.3,834.9 L312.3,833.0 L313.4,831.1 L314.4,829.2 L315.5,827.3 L316.6,825.4 L317.7,823.5 L318.8,821.6 L319.9,819.7 L321.0,817.8 L322.1,816.0 L323.3,814.1 L324.4,812.2 L325.6,810.4 L326.8,808.6 L328.0,806.7 L329.2,804.9 L330.4,803.1 L331.6,801.3 L332.8,799.4 L334.1,797.6 L335.3,795.9 L336.6,794.1 L337.9,792.3 L339.1,790.5 L340.4,788.8 L341.8,787.0 L343.1,785.2 L344.4,783.5 L345.7,781.8 L347.1,780.0 L348.4,778.3 L349.8,776.6 L351.2,774.9 L352.6,773.2 L354.0,771.5 L355.4,769.9 L356.8,768.2 L358.3,766.5 L359.7,764.9 L361.1,763.2 L362.6,761.6 L364.1,760.0 L365.6,758.3 L367.0,756.7 L368.5,755.1 L370.1,753.5 L371.6,751.9 L373.1,750.4 L374.6,748.8 L376.2,747.2 L377.7,745.7 L379.3,744.1 L380.9,742.6 L382.5,741.1 L384.1,739.6 L385.7,738.1 L387.3,736.6 L388.9,735.1 L390.5,733.6 L392.2,732.1 L393.8,730.7 L395.5,729.2 L397.1,727.8 L398.8,726.4 L400.5,725.0 L402.2,723.5 L403.9,722.1 L405.6,720.8 L407.3,719.4 L409.0,718.0 L410.7,716.6 L412.5,715.3 L414.2,713.9 L416.0,712.6 L417.7,711.3 L419.5,709.9 L421.3,708.6 L423.0,707.3 L424.8,706.0 L426.6,704.8 L428.4,703.5 L430.2,702.2 L432.0,701.0 L433.8,699.7 L435.7,698.5 L437.5,697.2 L439.3,696.0 L441.1,694.8 L443.0,693.6 L444.8,692.4 L446.7,691.2 L448.5,690.0 L450.4,688.8 L452.3,687.6 L454.1,686.5 L456.0,685.3 L457.9,684.2 L459.8,683.0 L461.6,681.9 L463.5,680.8 L465.4,679.7 L467.3,678.6 L469.2,677.5 L471.1,676.4 L473.0,675.3 L475.0,674.2 L476.9,673.1 L478.8,672.1 L480.7,671.0 L482.6,669.9 L484.6,668.9 L486.5,667.9 L488.5,666.8 L490.4,665.8 L492.3,664.8 L494.3,663.8 L496.2,662.7 L498.2,661.7 L500.2,660.7 L502.1,659.7 L504.1,658.8 L506.1,657.8 L508.0,656.8 L510.0,655.8 L512.0,654.9 L514.0,653.9 L516.0,652.9 L517.9,652.0 L519.9,651.0 L521.9,650.1 L523.9,649.2 L525.9,648.2 L527.9,647.3 L529.9,646.4 L531.9,645.5 L533.9,644.6 L535.9,643.6 L537.9,642.7 L540.0,641.8 L542.0,640.9 L544.0,640.1 L546.0,639.2 L548.0,638.3 L550.1,637.4 L552.1,636.5 L554.1,635.7 L556.1,634.8 L558.2,633.9 L560.2,633.1 L562.2,632.2 L564.3,631.3 L566.3,630.5 L568.4,629.6 L570.4,628.8 L572.4,627.9 L574.5,627.1 L576.5,626.3 L578.6,625.4 L580.6,624.6 L582.7,623.8 L584.7,622.9 L586.8,622.1 L588.8,621.3 L590.9,620.4 L592.9,619.6 L595.0,618.8 L597.0,618.0 L599.1,617.2 L601.1,616.4 L603.2,615.5 L605.3,614.7 L607.3,613.9 L609.4,613.1 L611.4,612.3 L613.5,611.5 L615.5,610.7 L617.6,609.9 L619.7,609.1 L621.7,608.3 L623.8,607.5 L625.8,606.7 L627.9,605.9 L630.0,605.1 L632.0,604.3 L634.1,603.5 L636.2,602.7 L638.2,601.9 L640.3,601.1 L642.3,600.3 L644.4,599.5 L646.5,598.7 L648.5,598.0 L650.6,597.2 L652.7,596.4 L654.7,595.6 L656.8,594.8 L658.8,594.0 L660.9,593.2 L663.0,592.4 L665.0,591.7 L667.1,590.9 L669.2,590.1 L671.2,589.3 L673.3,588.5 L675.3,587.7 L677.4,587.0 L679.5,586.2 L681.5,585.4 L683.6,584.6 L685.7,583.8 L687.7,583.0 L689.8,582.3 L691.9,581.5 L693.9,580.7 L696.0,579.9 L698.0,579.1 L700.1,578.4 L702.2,577.6 L704.2,576.8 L706.3,576.0 L708.4,575.3 L710.4,574.5 L712.5,573.7 L714.6,572.9 L716.6,572.1 L718.7,571.4 L720.7,570.6 L722.8,569.8 L724.9,569.0 L726.9,568.3 L729.0,567.5 L731.1,566.7 L733.1,565.9 L735.2,565.2 L737.2,564.4 L739.3,563.6 L741.4,562.8 L743.4,562.0 L745.5,561.3 L747.5,560.5 L749.6,559.7 L751.7,558.9 L753.7,558.1 L755.8,557.4 L757.9,556.6 L759.9,555.8 L762.0,555.0 L764.0,554.2 L766.1,553.5 L768.1,552.7 L770.2,551.9 L772.3,551.1 L774.3,550.3 L776.4,549.5 L778.4,548.8 L780.5,548.0 L782.5,547.2 L784.6,546.4 L786.7,545.6 L788.7,544.8 L790.8,544.0 L792.8,543.3 L794.9,542.5 L796.9,541.7 L799.0,540.9 L801.0,540.1 L803.1,539.3 L805.1,538.5 L807.2,537.7 L809.3,536.9 L811.3,536.1 L813.4,535.3 L815.4,534.5 L817.5,533.7 L819.5,532.9 L821.6,532.1 L823.6,531.3 L825.7,530.5 L827.7,529.7 L829.7,528.9 L831.8,528.1 L833.8,527.3 L835.9,526.5 L837.9,525.7 L840.0,524.9 L842.0,524.1 L844.1,523.3 L846.1,522.5 L848.1,521.6 L850.2,520.8 L852.2,520.0 L854.3,519.2 L856.3,518.4 L858.4,517.6 L860.4,516.7 L862.4,515.9 L864.5,515.1 L866.5,514.3 L868.5,513.4 L870.6,512.6 L872.6,511.8 L874.7,510.9 L876.7,510.1 L878.7,509.3 L880.8,508.4 L882.8,507.6 L884.8,506.8 L886.8,505.9 L888.9,505.1 L890.9,504.2 L892.9,503.4 L895.0,502.6 L897.0,501.7 L899.0,500.9 L901.0,500.0 L903.1,499.1 L905.1,498.3 L907.1,497.4 L909.1,496.6 L911.2,495.7 L913.2,494.9 L915.2,494.0 L917.2,493.1 L919.3,492.3 L921.3,491.4 L923.3,490.5 L925.3,489.6 L927.3,488.8 L929.3,487.9 L931.3,487.0 L933.4,486.1 L935.4,485.2 L937.4,484.4 L939.4,483.5 L941.4,482.6 L943.4,481.7 L945.4,480.8 L947.4,479.9 L949.4,479.0 L951.4,478.1 L953.5,477.2 L955.5,476.3 L957.5,475.4 L959.5,474.5 L961.5,473.6 L963.5,472.6 L965.5,471.7 L967.5,470.8 L969.5,469.9 L971.5,469.0 L973.5,468.0 L975.4,467.1 L977.4,466.2 L979.4,465.2 L981.4,464.3 L983.4,463.4 L985.4,462.4 L987.4,461.5 L989.4,460.5 L991.4,459.6 L993.4,458.6 L995.3,457.7 L997.3,456.7 L999.3,455.8 L1001.3,454.8 L1003.3,453.8 L1005.2,452.9 L1007.2,451.9 L1009.2,450.9 L1011.2,449.9 L1013.1,449.0 L1015.1,448.0 L1017.1,447.0 L1019.1,446.0 L1021.0,445.0 L1023.0,444.0 L1025.0,443.0 L1026.9,442.0 L1028.9,441.0 L1030.9,440.0 L1032.8,439.0 L1034.8,438.0 L1036.7,437.0 L1038.7,436.0 L1040.7,434.9 L1042.6,433.9 L1044.6,432.9 L1046.5,431.9 L1048.5,430.8 L1050.4,429.8 L1052.4,428.8 L1054.3,427.7 L1056.3,426.7 L1058.2,425.6 L1060.2,424.6 L1062.1,423.5 L1064.1,422.4 L1066.0,421.4 L1067.9,420.3 L1069.9,419.2 L1071.8,418.2 L1073.8,417.1 L1075.7,416.0 L1077.6,414.9 L1079.6,413.8 L1081.5,412.8 L1083.4,411.7 L1085.3,410.6 L1087.3,409.5 L1089.2,408.4 L1091.1,407.2 L1093.0,406.1 L1095.0,405.0 L1096.9,403.9 L1098.8,402.8 L1100.7,401.7 L1102.6,400.5 L1104.5,399.4 L1106.5,398.3 L1108.4,397.1 L1110.3,396.0 L1112.2,394.8 L1114.1,393.7 L1116.0,392.5 L1117.9,391.3 L1119.8,390.2" fill="none" stroke="#00f" stroke-width="8" stroke-linecap="round" stroke-linejoin="round"/>
<rect x="1051" y="791" width="79" height="8" fill="#000"/>
<rect x="1051" y="886" width="79" height="7" fill="#f00"/>
<rect x="1051" y="981" width="79" height="7" fill="#00f"/>
<text x="1164.69" y="812.30" font-style="italic">α</text>
<rect x="1200.80" y="789.30" width="27.0" height="4.1"/><rect x="1200.80" y="801.70" width="27.0" height="4.2"/>
<text transform="translate(1246.56,812.30) scale(0.975,1.02)" x="0" y="0" text-anchor="middle">0</text><text transform="translate(1270.03,812.30) scale(0.975,1.02)" x="0" y="0" text-anchor="middle">.</text><text transform="translate(1293.51,812.30) scale(0.975,1.02)" x="0" y="0" text-anchor="middle">2</text><text transform="translate(1324.82,812.30) scale(0.975,1.02)" x="0" y="0" text-anchor="middle">6</text><text transform="translate(1356.13,812.30) scale(0.975,1.02)" x="0" y="0" text-anchor="middle">8</text>
<text transform="translate(1178.06,906.90) scale(0.975,1.02)" x="0" y="0" text-anchor="middle">0</text><text transform="translate(1201.53,906.90) scale(0.975,1.02)" x="0" y="0" text-anchor="middle">.</text><text transform="translate(1225.01,906.90) scale(0.975,1.02)" x="0" y="0" text-anchor="middle">5</text><text transform="translate(1256.32,906.90) scale(0.975,1.02)" x="0" y="0" text-anchor="middle">7</text><text transform="translate(1287.63,906.90) scale(0.975,1.02)" x="0" y="0" text-anchor="middle">7</text>
<path transform="translate(1162.40,1001.20)" d="M15.95,0 L20.95,0 L20.95,-40 L18.3,-40 Q14,-33 6,-29.8 L6,-25 Q12,-27.3 15.95,-31.3 Z"/>
<text transform="translate(282.80,108.00) scale(0.9700,1.0550)" x="0" y="0">T</text>
<rect x="321.00" y="85.00" width="27.0" height="4.1"/><rect x="321.00" y="97.40" width="27.0" height="4.2"/>
<text x="351.80" y="108.00">0</text>
<text transform="translate(399.71,108.00) scale(1.0600,1.0550)" x="0" y="0">K</text>
<text x="438.83" y="108.00">,</text>
<text x="474.38" y="108.00" font-style="italic">μ</text>
<path transform=" translate(505.1,108.0)" d="M23.6,-28.2 L14.6,-28.2 C8.2,-27.8 3.2,-19.5 2.4,-10.5 C2.1,-5 3.6,-2 6.6,-2 C10.2,-2 14.6,-6.6 18.6,-11.4 M24,-28.4 Q20.5,-14 17.6,-2.2 M17.8,-2.4 C20.5,-3.4 24,-6 28,-9.6 M22.6,-28.4 L27,-28.4" fill="none" stroke="#000" stroke-width="3.8" stroke-linecap="round" stroke-linejoin="round"/>
<path d="M540.00,108.80 L543.70,108.80 L556.30,67.20 L552.60,67.20 Z"/>
<text x="559.94" y="108.00" font-style="italic">ħ</text>
<text x="588.87" y="108.00">v</text>
<text transform="translate(616.60,117.90) scale(0.7460,0.7460)" x="0" y="0" font-style="italic" opacity="0.999">F</text>
<rect x="647.90" y="85.00" width="27.0" height="4.1"/><rect x="647.90" y="97.40" width="27.0" height="4.2"/>
<text x="678.80" y="108.00">0</text>
<text x="708.68" y="108.00">.</text>
<path transform="translate(725.00,108.00)" d="M15.95,0 L20.95,0 L20.95,-40 L18.3,-40 Q14,-33 6,-29.8 L6,-25 Q12,-27.3 15.95,-31.3 Z"/>
<text x="755.93" y="108.00">,</text>
<text transform="translate(787.13,108.00) scale(1.1100,1.0550)" x="0" y="0">Δ</text>
<path transform=" translate(829.4,108.0)" d="M23.6,-28.2 L14.6,-28.2 C8.2,-27.8 3.2,-19.5 2.4,-10.5 C2.1,-5 3.6,-2 6.6,-2 C10.2,-2 14.6,-6.6 18.6,-11.4 M24,-28.4 Q20.5,-14 17.6,-2.2 M17.8,-2.4 C20.5,-3.4 24,-6 28,-9.6 M22.6,-28.4 L27,-28.4" fill="none" stroke="#000" stroke-width="3.8" stroke-linecap="round" stroke-linejoin="round"/>
<path d="M864.30,108.80 L868.00,108.80 L880.60,67.20 L876.90,67.20 Z"/>
<text x="883.14" y="108.00" font-style="italic">ħ</text>
<text x="911.77" y="108.00">v</text>
<text transform="translate(939.90,117.90) scale(0.7460,0.7460)" x="0" y="0" font-style="italic" opacity="0.999">F</text>
<rect x="971.90" y="85.00" width="27.0" height="4.1"/><rect x="971.90" y="97.40" width="27.0" height="4.2"/>
<text x="1001.60" y="108.00">0</text>
<text x="1032.68" y="108.00">.</text>
<text x="1049.80" y="108.00">0</text>
<text x="1081.65" y="108.00">5</text>
<text x="804.54" y="1425.50">q</text>
<path transform=" translate(837.0,1427.0)" d="M23.6,-28.2 L14.6,-28.2 C8.2,-27.8 3.2,-19.5 2.4,-10.5 C2.1,-5 3.6,-2 6.6,-2 C10.2,-2 14.6,-6.6 18.6,-11.4 M24,-28.4 Q20.5,-14 17.6,-2.2 M17.8,-2.4 C20.5,-3.4 24,-6 28,-9.6 M22.6,-28.4 L27,-28.4" fill="none" stroke="#000" stroke-width="3.8" stroke-linecap="round" stroke-linejoin="round"/>
<g transform="translate(54.7,716.5) rotate(-90)"><text x="0.04" y="0.00" font-style="italic">ω</text><path transform="translate(43.9,0)" d="M23.6,-28.2 L14.6,-28.2 C8.2,-27.8 3.2,-19.5 2.4,-10.5 C2.1,-5 3.6,-2 6.6,-2 C10.2,-2 14.6,-6.6 18.6,-11.4 M24,-28.4 Q20.5,-14 17.6,-2.2 M17.8,-2.4 C20.5,-3.4 24,-6 28,-9.6 M22.6,-28.4 L27,-28.4" fill="none" stroke="#000" stroke-width="3.8" stroke-linecap="round" stroke-linejoin="round"/><path d="M77.00,0.00 L80.70,0.00 L92.50,-42.00 L88.80,-42.00 Z"/><text x="94.90" y="0.00" font-style="italic">v</text><text transform="translate(122.10,9.40) scale(0.7460,0.7460)" x="0" y="0" font-style="italic" opacity="0.999">F</text></g>
</svg>
</body></html>
